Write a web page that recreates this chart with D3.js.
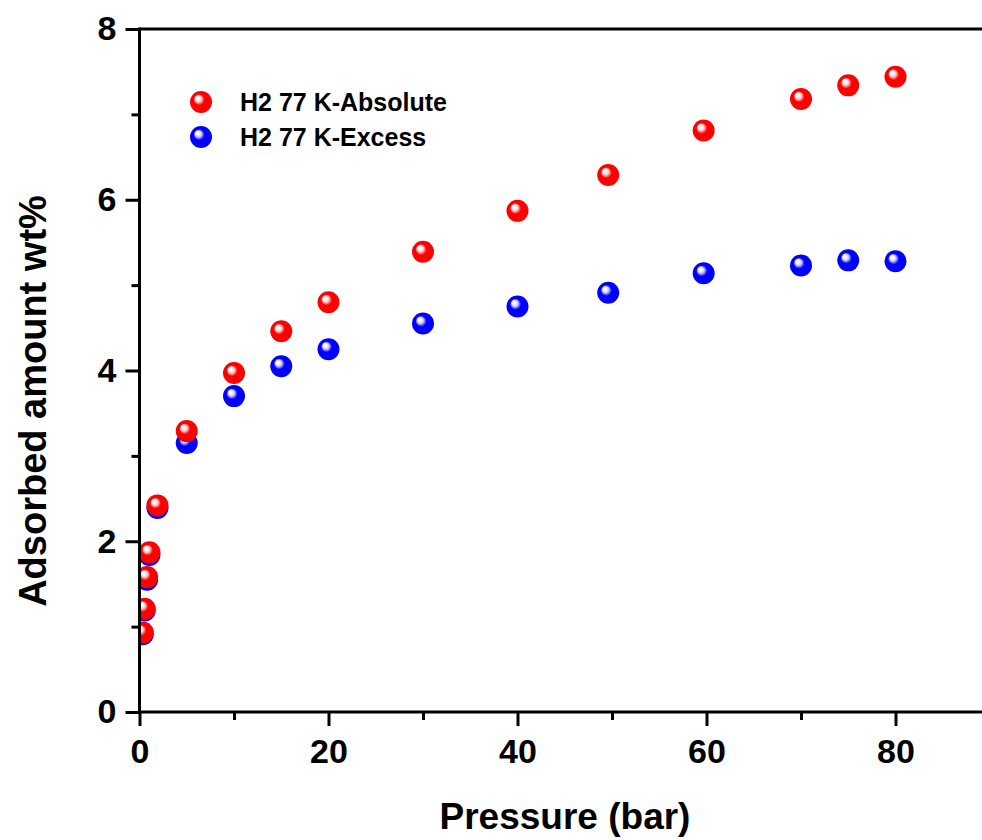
<!DOCTYPE html>
<html>
<head>
<meta charset="utf-8">
<script src="https://cdn.jsdelivr.net/npm/d3@7"></script>
<style>
  html, body { margin: 0; padding: 0; background: #fff; }
  svg { display: block; }
  text { font-family: "Liberation Sans", Arial, sans-serif; font-weight: bold; fill: #000; }
</style>
</head>
<body>
<div id="chart"></div>
<script>
"use strict";

/* ── Data ── */
const pressure = [0.35, 0.55, 0.8, 1.05, 1.9, 5, 10, 15, 20, 30, 40, 49.6, 59.7, 70, 75, 80];
const absolute = [0.93, 1.21, 1.58, 1.87, 2.42, 3.29, 3.97, 4.46, 4.80, 5.39, 5.87, 6.29, 6.81, 7.18, 7.34, 7.44];
const excess   = [0.91, 1.19, 1.55, 1.84, 2.39, 3.15, 3.70, 4.05, 4.25, 4.55, 4.75, 4.91, 5.14, 5.23, 5.29, 5.28];

const seriesNames  = ["H2 77 K-Absolute", "H2 77 K-Excess"];
const xMajorTicks  = [0, 20, 40, 60, 80];
const xMinorTicks  = [10, 30, 50, 70];
const yMajorTicks  = [0, 2, 4, 6, 8];
const yMinorTicks  = [1, 3, 5, 7];

const series = [
  { name: seriesNames[0], values: absolute, colour: "#ff0000", light: "#ffc8c8", id: "ballRed" },
  { name: seriesNames[1], values: excess,   colour: "#0000ff", light: "#c8c8ff", id: "ballBlue" }
];

/* ── Dimensions ── */
const W = 982, H = 840;
const x = d3.scaleLinear().domain([0, 90]).range([139.5, 990]);
const y = d3.scaleLinear().domain([0, 8]).range([712, 29]);
const R = 11;

const svg = d3.select("#chart").append("svg")
  .attr("width", W).attr("height", H);

/* ── Ball gradients ── */
const defs = svg.append("defs");
series.forEach(s => {
  const g = defs.append("radialGradient")
    .attr("id", s.id)
    .attr("cx", "50%").attr("cy", "50%").attr("r", "52%")
    .attr("fx", "33%").attr("fy", "30%");
  g.append("stop").attr("offset", "0%").attr("stop-color", "#ffffff");
  g.append("stop").attr("offset", "12%").attr("stop-color", "#ffffff");
  g.append("stop").attr("offset", "28%").attr("stop-color", s.light);
  g.append("stop").attr("offset", "48%").attr("stop-color", s.colour);
  g.append("stop").attr("offset", "100%").attr("stop-color", s.colour);
});

defs.append("clipPath").attr("id", "plotClip")
  .append("rect")
  .attr("x", x(0)).attr("y", y(8))
  .attr("width", x(90) - x(0)).attr("height", y(0) - y(8));

/* ── Points (Excess first so Absolute sits on top) ── */
const plot = svg.append("g").attr("clip-path", "url(#plotClip)");
[series[1], series[0]].forEach(s => {
  plot.selectAll(null)
    .data(pressure.map((p, i) => ({ p, v: s.values[i] })))
    .join("circle")
    .attr("cx", d => x(d.p))
    .attr("cy", d => y(d.v))
    .attr("r", R)
    .attr("fill", `url(#${s.id})`);
});

/* ── Axes ── */
const axisStyle = g => {
  g.select(".domain").remove();
  g.selectAll(".tick line").attr("stroke", "#000").attr("stroke-width", 3);
};

// bottom: major + minor
svg.append("g")
  .attr("transform", `translate(0,${y(0)})`)
  .call(d3.axisBottom(x).tickValues(xMinorTicks).tickSize(8).tickFormat(""))
  .call(axisStyle);
svg.append("g")
  .attr("transform", `translate(0,${y(0)})`)
  .call(d3.axisBottom(x).tickValues(xMajorTicks).tickSize(14))
  .call(axisStyle)
  .call(g => g.selectAll(".tick text")
    .attr("font-size", 34)
    .attr("dy", "0.72em")
    .attr("y", 27));

// left: major + minor
svg.append("g")
  .attr("transform", `translate(${x(0)},0)`)
  .call(d3.axisLeft(y).tickValues(yMinorTicks).tickSize(8).tickFormat(""))
  .call(axisStyle);
svg.append("g")
  .attr("transform", `translate(${x(0)},0)`)
  .call(d3.axisLeft(y).tickValues(yMajorTicks).tickSize(14))
  .call(axisStyle)
  .call(g => g.selectAll(".tick text")
    .attr("font-size", 34)
    .attr("x", -23));

// frame lines
svg.append("line")
  .attr("x1", x(0)).attr("x2", x(0)).attr("y1", y(8) - 1.5).attr("y2", y(0) + 1.5)
  .attr("stroke", "#000").attr("stroke-width", 3);
svg.append("line")
  .attr("x1", x(0)).attr("x2", x(90)).attr("y1", y(0)).attr("y2", y(0))
  .attr("stroke", "#000").attr("stroke-width", 3);
svg.append("line")
  .attr("x1", x(0)).attr("x2", x(90)).attr("y1", y(8)).attr("y2", y(8))
  .attr("stroke", "#000").attr("stroke-width", 3);

/* ── Axis titles ── */
svg.append("text")
  .attr("x", 565).attr("y", 829)
  .attr("text-anchor", "middle")
  .attr("font-size", 37)
  .text("Pressure (bar)");

svg.append("text")
  .attr("transform", "translate(46,401) rotate(-90)")
  .attr("text-anchor", "middle")
  .attr("font-size", 38)
  .text("Adsorbed amount wt%");

/* ── Legend ── */
const legend = svg.append("g").attr("transform", "translate(201,102)");
series.forEach((s, i) => {
  const row = legend.append("g").attr("transform", `translate(0,${i * 35})`);
  row.append("circle").attr("r", 11).attr("fill", `url(#${s.id})`);
  row.append("text")
    .attr("x", 39).attr("dy", "0.36em")
    .attr("font-size", 25)
    .text(s.name);
});
</script>
</body>
</html>
